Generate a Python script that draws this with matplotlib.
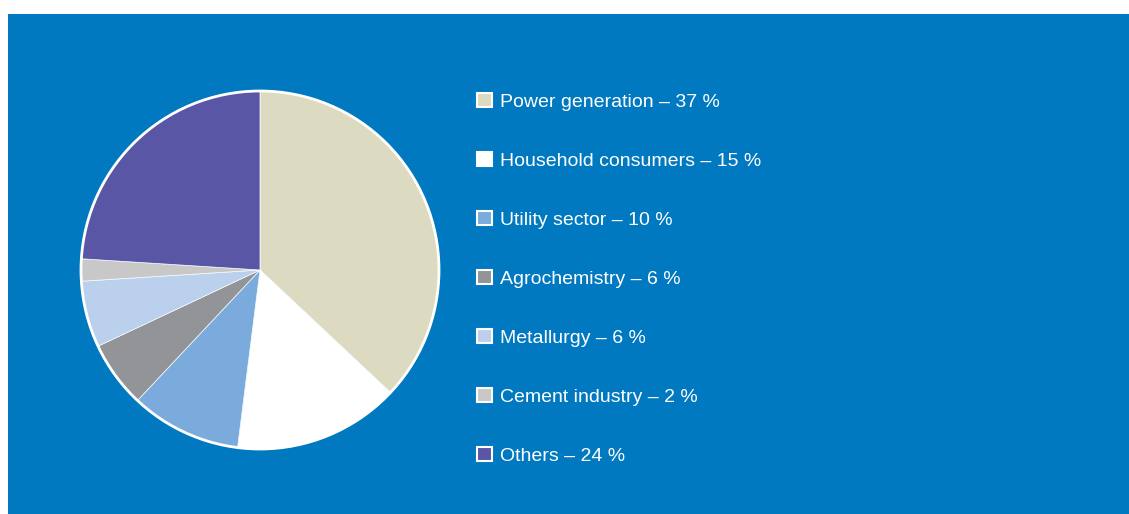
import matplotlib.pyplot as plt
from matplotlib.patches import Rectangle, Circle

# gas consumption by sector, percent
sectors = ['Power generation', 'Household consumers', 'Utility sector',
           'Agrochemistry', 'Metallurgy', 'Cement industry', 'Others']
shares = [37, 15, 10, 6, 6, 2, 24]
colors = ['#dcdbc1', '#ffffff', '#7aabdc', '#929497', '#bad0ed', '#c8c8c8', '#5a56a6']

W, H = 1129, 514
BG = '#0079c1'

plt.rcParams['font.family'] = ['Liberation Sans', 'DejaVu Sans']

fig = plt.figure(figsize=(W / 100, H / 100), dpi=100, facecolor='white')

# blue panel
fig.patches.append(Rectangle((8 / W, 0), 1 - 8 / W, (H - 14) / H,
                             transform=fig.transFigure, facecolor=BG,
                             edgecolor='none', zorder=-5))

# pie
cx, cy, r = 260, 270, 179
ax = fig.add_axes([(cx - r - 4) / W, (H - cy - r - 4) / H, (2 * r + 8) / W, (2 * r + 8) / H])
ax.set_zorder(1)
ax.patch.set_visible(False)
wedges, _ = ax.pie(shares, colors=colors, startangle=90, counterclock=False,
                   radius=1, wedgeprops=dict(edgecolor='white', linewidth=0.5))
ax.add_patch(Circle((0, 0), 1, facecolor='none', edgecolor='white', linewidth=2))
ax.set_xlim(-(r + 4) / r, (r + 4) / r)
ax.set_ylim(-(r + 4) / r, (r + 4) / r)
ax.axis('off')

# legend rows
y0, step = 100, 59
for i, (name, val) in enumerate(zip(sectors, shares)):
    y = y0 + i * step
    fig.patches.append(Rectangle((477 / W, 1 - (y + 7) / H), 15 / W, 14 / H,
                                 transform=fig.transFigure, facecolor=colors[i],
                                 edgecolor='white', linewidth=1.5, zorder=2))
    fig.text(500 / W, 1 - (y + 7) / H, '{} – {} %'.format(name, val),
             color='white', fontsize=14, va='baseline', ha='left')

fig.savefig('out.png', dpi=100, facecolor=fig.get_facecolor())
